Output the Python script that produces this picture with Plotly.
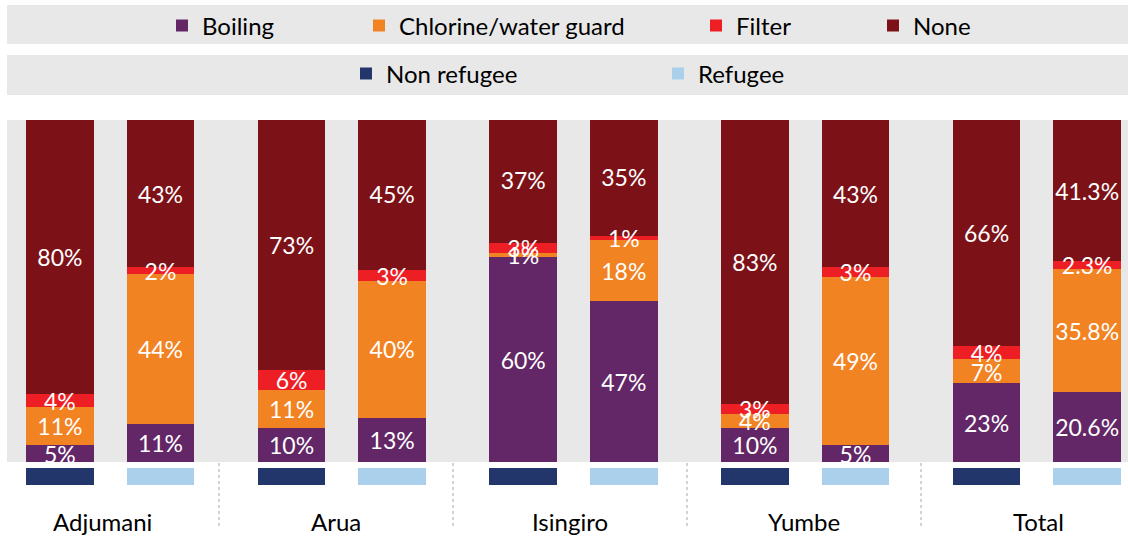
import plotly.graph_objects as go

# Household water treatment method by district and refugee status (%)
districts = ["Adjumani", "Arua", "Isingiro", "Yumbe", "Total"]
groups = ["Non refugee", "Refugee"]

boiling_nr = [5, 10, 60, 10, 23]
boiling_r = [11, 13, 47, 5, 20.6]
chlorine_nr = [11, 11, 1, 4, 7]
chlorine_r = [44, 40, 18, 49, 35.8]
filter_nr = [4, 6, 3, 3, 4]
filter_r = [2, 3, 1, 3, 2.3]
none_nr = [80, 73, 37, 83, 66]
none_r = [43, 45, 35, 43, 41.3]

methods = [
    ("Boiling", boiling_nr, boiling_r, "#632667"),
    ("Chlorine/water guard", chlorine_nr, chlorine_r, "#F28322"),
    ("Filter", filter_nr, filter_r, "#ED1E24"),
    ("None", none_nr, none_r, "#7C1218"),
]
group_colors = {"Non refugee": "#22366B", "Refugee": "#AAD0EC"}

FONT = "Lato"
BAR_W = 0.29
GRAY = "#E8E8E8"
LABEL_SHIFT = -1.0  # nudge labels slightly down so they sit visually centred

# x positions: one unit per district, the two groups side by side
x_nr = [k * 0.99 - 0.18 for k in range(len(districts))]
x_r = [k * 0.99 + 0.25 for k in range(len(districts))]

# paper coordinates: plot area spans px 120..500 of the 537px page
def py(px):
    return (500 - px) / 380.0

def pxx(px):
    return (px - 7) / 1121.0

fig = go.Figure()

xs_all = []
for k in range(len(districts)):
    xs_all += [x_nr[k], x_r[k]]

legend_names = ["legend", "legend2", "legend3", "legend4"]
base = [0.0] * len(xs_all)
label_x, label_y, label_t = [], [], []
for (name, nr, r, color), lg in zip(methods, legend_names):
    ys = []
    for k in range(len(districts)):
        ys += [nr[k], r[k]]
    fig.add_trace(go.Bar(
        name=name, x=xs_all, y=ys, width=BAR_W,
        marker=dict(color=color, line=dict(width=0)),
        legend=lg, hoverinfo="skip",
    ))
    # value labels sit at the middle of each stacked segment
    for i, v in enumerate(ys):
        label_x.append(xs_all[i])
        label_y.append(base[i] + v / 2.0 + LABEL_SHIFT)
        label_t.append(f"{v:g}%")
        base[i] += v

# labels drawn on top of every segment
fig.add_trace(go.Scatter(
    x=label_x, y=label_y, text=label_t, mode="text",
    textposition="middle center",
    textfont=dict(family=FONT, size=23, color="white"),
    showlegend=False, hoverinfo="skip", cliponaxis=False,
))

# group marker strips beneath the bars
for name, xs, lg in [("Non refugee", x_nr, "legend5"), ("Refugee", x_r, "legend6")]:
    fig.add_trace(go.Bar(
        name=name, x=xs, y=[1] * len(xs), width=BAR_W,
        marker=dict(color=group_colors[name], line=dict(width=0)),
        xaxis="x", yaxis="y2", legend=lg, hoverinfo="skip",
    ))

shapes = [
    # grey panel behind the bars
    dict(type="rect", xref="x domain", yref="y domain", x0=0, x1=1, y0=0, y1=1,
         fillcolor=GRAY, line=dict(width=0), layer="below"),
    # grey legend bands
    dict(type="rect", xref="paper", yref="paper", x0=0, x1=1, y0=py(44), y1=py(5),
         fillcolor=GRAY, line=dict(width=0), layer="below"),
    dict(type="rect", xref="paper", yref="paper", x0=0, x1=1, y0=py(95), y1=py(55),
         fillcolor=GRAY, line=dict(width=0), layer="below"),
]
# dotted separators between districts
for k in range(len(districts) - 1):
    shapes.append(dict(type="line", xref="x", yref="paper", x0=k + 0.5, x1=k + 0.5,
                       y0=py(463), y1=py(528),
                       line=dict(color="#A6A6A6", width=1, dash="dot")))

annotations = [
    dict(x=k, y=py(521), xref="x", yref="paper", text=d, showarrow=False,
         xanchor="center", yanchor="middle",
         font=dict(family=FONT, size=24, color="#000000"))
    for k, d in enumerate(districts)
]

def legend_at(px_left, px_center):
    return dict(
        orientation="h", x=pxx(px_left), xanchor="left",
        y=py(px_center), yanchor="middle",
        bgcolor="rgba(0,0,0,0)", borderwidth=0,
        font=dict(family=FONT, size=24, color="#000000"),
    )

fig.update_layout(
    width=1128, height=537,
    margin=dict(l=7, r=0, t=120, b=37, pad=0, autoexpand=False),
    paper_bgcolor="white", plot_bgcolor="white",
    barmode="stack", bargap=0,
    showlegend=True,
    legend=legend_at(162, 26),
    legend2=legend_at(359, 26),
    legend3=legend_at(696, 26),
    legend4=legend_at(873, 26),
    legend5=legend_at(346, 74),
    legend6=legend_at(658, 74),
    xaxis=dict(range=[(7 - 102) / 234, (1128 - 102) / 234], visible=False,
               fixedrange=True),
    yaxis=dict(range=[0, 100], domain=[py(462), 1], visible=False, fixedrange=True),
    yaxis2=dict(range=[0, 1], domain=[py(485), py(468)], visible=False,
                anchor="x", fixedrange=True),
    shapes=shapes,
    annotations=annotations,
    font=dict(family=FONT),
)

fig.write_html("out.html")
